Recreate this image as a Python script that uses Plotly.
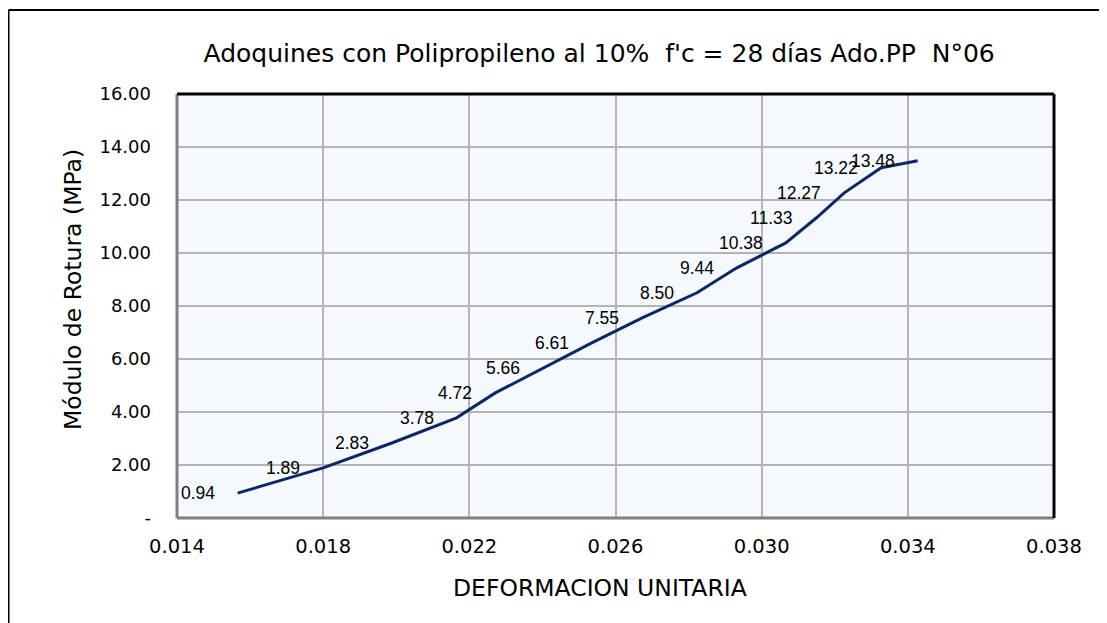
import plotly.graph_objects as go

deformacion = [0.01566, 0.01800, 0.01988, 0.02165, 0.02271, 0.02401, 0.02535,
               0.02673, 0.02823, 0.02932, 0.03066, 0.03150, 0.03226, 0.03327, 0.03427]
modulo = [0.94, 1.89, 2.83, 3.78, 4.72, 5.66, 6.61, 7.55, 8.50, 9.44,
          10.38, 11.33, 12.27, 13.22, 13.48]
etiquetas = ["0.94", "1.89", "2.83", "3.78", "4.72", "5.66", "6.61", "7.55",
             "8.50", "9.44", "10.38", "11.33", "12.27", "13.22", "13.48"]

x_ticks = [0.014, 0.018, 0.022, 0.026, 0.030, 0.034, 0.038]
x_ticktext = ["0.014", "0.018", "0.022", "0.026", "0.030", "0.034", "0.038"]
y_ticks = [0, 2, 4, 6, 8, 10, 12, 14, 16]
y_ticktext = ["-", "2.00", "4.00", "6.00", "8.00", "10.00", "12.00", "14.00", "16.00"]

FONT = "Liberation Sans, Arial, sans-serif"
WIDE = "DejaVu Sans, Liberation Sans, sans-serif"

fig = go.Figure()
fig.add_trace(go.Scatter(
    x=deformacion, y=modulo, mode="lines",
    line=dict(color="#0D2766", width=3),
    hoverinfo="x+y", showlegend=False,
))

PW = 1107 - 169 - 61
PH = 623 - 86 - 113

annotations = []
for xv, yv, t in zip(deformacion, modulo, etiquetas):
    annotations.append(dict(
        x=xv, y=yv, xref="x", yref="y", text=t, showarrow=False,
        xanchor="right", yanchor="middle", xshift=-21,
        font=dict(family=FONT, size=17.5, color="#000000"),
    ))

# axis titles
annotations.append(dict(
    text="DEFORMACION UNITARIA", xref="paper", yref="paper",
    x=(592 - 169) / PW, y=-(580 - 510) / PH, xanchor="center", yanchor="middle",
    showarrow=False, font=dict(family=WIDE, size=23.5, color="#000000"),
))
annotations.append(dict(
    text="Módulo de Rotura (MPa)", xref="paper", yref="paper",
    x=(65 - 169) / PW, y=1 - (282 - 86) / PH, xanchor="center", yanchor="middle",
    textangle=-90, showarrow=False,
    font=dict(family=WIDE, size=23.5, color="#000000"),
))

fig.update_layout(
    width=1107, height=623,
    margin=dict(l=169, r=61, t=86, b=113),
    paper_bgcolor="#FFFFFF",
    plot_bgcolor="#F5F9FD",
    font=dict(family=WIDE, size=18, color="#000000"),
    title=dict(
        text="Adoquines con Polipropileno al 10%  f'c = 28 días Ado.PP  N°06",
        x=0.534, xanchor="center", xref="container",
        y=1 - 45 / 623, yanchor="middle",
        font=dict(family=WIDE, size=25, color="#000000"),
    ),
    xaxis=dict(
        range=[0.014, 0.038], tickvals=x_ticks, ticktext=x_ticktext,
        showgrid=True, gridcolor="#B4B4B4", gridwidth=1.5,
        zeroline=False, showline=False, ticks="",
        ticklabelstandoff=14,
        tickfont=dict(family=WIDE, size=19.5),
    ),
    yaxis=dict(
        range=[0, 16], tickvals=y_ticks, ticktext=y_ticktext,
        showgrid=True, gridcolor="#B4B4B4", gridwidth=1.5,
        zeroline=False, showline=False, ticks="",
        ticklabelstandoff=25,
        tickfont=dict(family=WIDE, size=18),
    ),
    annotations=annotations,
    shapes=[
        dict(type="line", xref="paper", yref="paper", x0=0, x1=0, y0=0, y1=1,
             line=dict(color="#7F7F7F", width=3)),
        dict(type="line", xref="paper", yref="paper", x0=0, x1=1, y0=0, y1=0,
             line=dict(color="#7F7F7F", width=3)),
        dict(type="line", xref="paper", yref="paper", x0=0, x1=1, y0=1, y1=1,
             line=dict(color="#000000", width=3)),
        dict(type="line", xref="paper", yref="paper", x0=1, x1=1, y0=0, y1=1,
             line=dict(color="#000000", width=3)),
        # outer chart border (top-left; continues beyond the view)
        dict(type="line", xref="paper", yref="paper",
             x0=-168.5 / PW, x1=1.3, y0=1 + 84 / PH, y1=1 + 84 / PH,
             line=dict(color="#000000", width=2)),
        dict(type="line", xref="paper", yref="paper",
             x0=-168.5 / PW, x1=-168.5 / PW, y0=-0.4, y1=1 + 84 / PH,
             line=dict(color="#000000", width=2)),
    ],
)

fig.write_html("out.html")
